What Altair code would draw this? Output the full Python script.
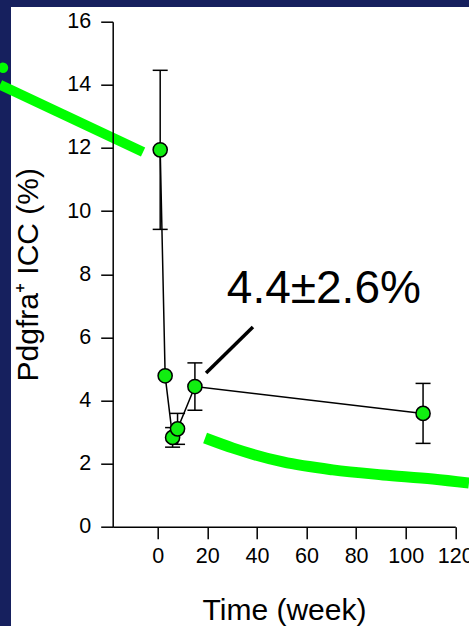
import altair as alt
import pandas as pd

# ---- data ----
weeks = [1, 3, 6, 8, 15, 107]
icc_pct = [11.94, 4.78, 2.83, 3.10, 4.44, 3.59]
icc_err = [2.52, 0.0, 0.31, 0.49, 0.75, 0.95]

x_ticks = [0, 20, 40, 60, 80, 100, 120]
y_ticks = [0, 2, 4, 6, 8, 10, 12, 14, 16]

annot_text = ["4.4\u00b12.6%"]
annot_x = [67.0]
annot_y = [7.09]
pointer_x = [19.5, 38.4]
pointer_y = [4.87, 6.33]

# decorative slide strokes (green)
decor_curve_x = [19.1, 30.4, 50.5, 70.6, 90.8, 110.9, 125.5]
decor_curve_y = [2.81, 2.49, 2.05, 1.80, 1.64, 1.51, 1.38]
decor_arrow_x = [-63.6, -5.9]
decor_arrow_y = [14.0, 11.87]
decor_dot_x = [-62.4]
decor_dot_y = [14.54]

NAVY = "#16205e"
LIME = "#00ff00"
FONT = "Liberation Sans"

W, H = 342.6, 505
PAD_L, PAD_T = 112.7, 21.7

df = pd.DataFrame({"week": weeks, "pct": icc_pct, "err": icc_err})
df["lo"] = df["pct"] - df["err"]
df["hi"] = df["pct"] + df["err"]

xs = alt.Scale(domain=[-18.15, 120], nice=False, zero=False)
ys = alt.Scale(domain=[0, 16], nice=False, zero=False)
xaxis = alt.Axis(values=x_ticks, title="Time (week)", titlePadding=28, labelPadding=7,
                 labelOverlap=False, labelFlush=False, zindex=2)
yaxis = alt.Axis(values=y_ticks, title="Pdgfra\u207a ICC (%)", titlePadding=23, labelPadding=10,
                 labelOverlap=False, zindex=2)


def X(field):
    return alt.X(field, type="quantitative", scale=xs, axis=xaxis)


def Y(field):
    return alt.Y(field, type="quantitative", scale=ys, axis=yaxis)


# white slide panel over navy background
panel = alt.Chart(pd.DataFrame({"a": [0]})).mark_rect(color="white").encode(
    x=alt.value(11 - PAD_L), x2=alt.value(500), y=alt.value(7 - PAD_T), y2=alt.value(700)
)

curve = alt.Chart(pd.DataFrame({"x": decor_curve_x, "y": decor_curve_y})).mark_line(
    color=LIME, strokeWidth=11, strokeCap="butt", interpolate="monotone"
).encode(x=X("x"), y=Y("y"))

arrow = alt.Chart(pd.DataFrame({"x": decor_arrow_x, "y": decor_arrow_y})).mark_line(
    color=LIME, strokeWidth=10, strokeCap="butt"
).encode(x=X("x"), y=Y("y"))

dot = alt.Chart(pd.DataFrame({"x": decor_dot_x, "y": decor_dot_y})).mark_circle(
    color=LIME, size=110, opacity=1
).encode(x=X("x"), y=Y("y"))

errs = alt.Chart(df).transform_filter("datum.err > 0")
err_rule = errs.mark_rule(color="black", strokeWidth=1.5).encode(x=X("week"), y=Y("lo"), y2="hi")
cap_lo = errs.mark_tick(color="black", orient="horizontal", size=15, thickness=1.5, opacity=1).encode(
    x=X("week"), y=Y("lo"))
cap_hi = errs.mark_tick(color="black", orient="horizontal", size=15, thickness=1.5, opacity=1).encode(
    x=X("week"), y=Y("hi"))

line = alt.Chart(df).mark_line(color="black", strokeWidth=1.5).encode(x=X("week"), y=Y("pct"))
pts = alt.Chart(df).mark_circle(size=200, color="#11ee11", opacity=1, stroke="black",
                                strokeWidth=1.5).encode(x=X("week"), y=Y("pct"))

pointer = alt.Chart(pd.DataFrame({"x": pointer_x, "y": pointer_y})).mark_line(
    color="black", strokeWidth=3.5).encode(x=X("x"), y=Y("y"))

label = alt.Chart(pd.DataFrame({"x": annot_x, "y": annot_y, "t": annot_text})).mark_text(
    font=FONT, fontSize=46, align="center", baseline="alphabetic", color="black"
).encode(x=X("x"), y=Y("y"), text="t:N")

chart = alt.layer(panel, curve, arrow, dot, err_rule, cap_lo, cap_hi, line, pts, pointer, label).properties(
    width=W, height=H,
    background=NAVY,
    autosize=alt.AutoSizeParams(type="none"),
    padding={"left": PAD_L, "top": PAD_T, "right": 469 - PAD_L - W, "bottom": 626 - PAD_T - H},
).configure_view(stroke=None).configure_axis(
    grid=False,
    domainColor="black", domainWidth=1.5,
    tickColor="black", tickWidth=1.5, tickSize=12,
    labelFont=FONT, labelFontSize=21.5, labelColor="black",
    titleFont=FONT, titleFontSize=30, titleFontWeight="normal", titleColor="black",
)

chart.save("out.html", embed_options={"renderer": "svg", "actions": False})
